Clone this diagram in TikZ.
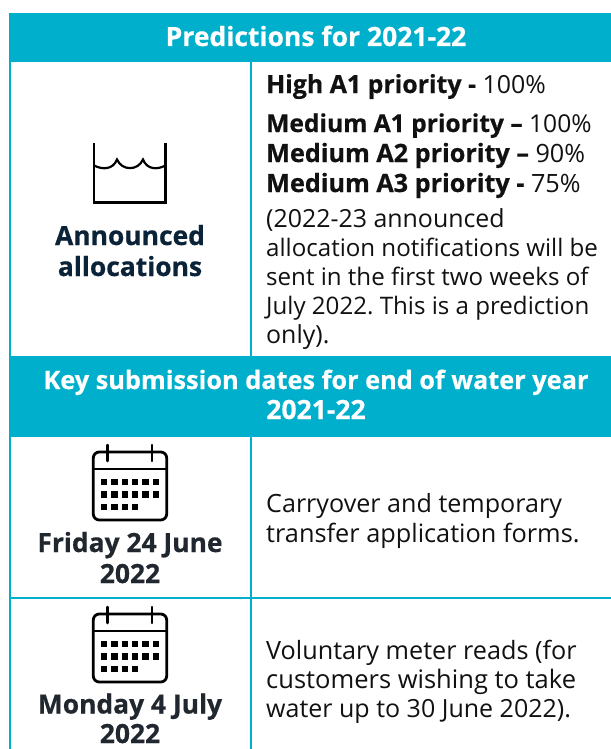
\documentclass[tikz,border=0pt]{standalone}
\usepackage{fontspec}
\setmainfont[BoldFeatures={FakeBold=0.5}]{Open Sans}
\frenchspacing
\definecolor{tealband}{HTML}{00AFCB}
\definecolor{navytext}{HTML}{0B2338}
\definecolor{darktext}{HTML}{20272E}
\definecolor{bodytext}{HTML}{111111}
\newcommand{\sz}[1]{\fontsize{#1}{#1}\selectfont}
\tikzset{
  band/.style={fill=tealband,draw=none},
  rule/.style={draw=tealband,line width=2bp},
  headtext/.style={text=white,font=\sz{26.6}\bfseries,inner sep=0pt,anchor=base},
  labeltext/.style={text=navytext,font=\sz{26.5}\bfseries,inner sep=0pt,anchor=base},
  datetext/.style={text=darktext,font=\sz{26.5}\bfseries,inner sep=0pt,anchor=base},
  bodyline/.style={text=bodytext,font=\sz{25},inner sep=0pt,anchor=base west},
  icon/.style={draw=black,line width=2.8bp},
}
\newcommand{\calicon}[1]{%
  \begin{scope}[yshift=-#1bp]
    \draw[icon,rounded corners=6bp] (93.3,452) rectangle (166.7,520);
    \draw[icon] (93.3,469) -- (166.7,469);
    \draw[icon,line cap=round,line width=2.5bp] (107.5,445) -- (107.5,461);
    \draw[icon,line cap=round,line width=2.5bp] (152,445) -- (152,461);
    \foreach \xc in {104,114.5,125,135,145.5,156}{
      \fill[black] (\xc-3.4,482-3.4) rectangle (\xc+3.4,482+3.4);
      \fill[black] (\xc-3.4,494.5-3.4) rectangle (\xc+3.4,494.5+3.4);
    }
    \foreach \xc in {104,114.5,125,135}{
      \fill[black] (\xc-3.4,507-3.4) rectangle (\xc+3.4,507+3.4);
    }
  \end{scope}}
\begin{document}
\begin{tikzpicture}[x=1bp,y=-1bp]
\useasboundingbox (0,0) rectangle (611,749);
\fill[white] (0,0) rectangle (611,749);
% table rules
\draw[rule] (10,13) -- (10,749);
\draw[rule] (250.5,62) -- (250.5,749);
\draw[rule] (10,598) -- (611,598);
% bands
\fill[band] (9,13) rectangle (611,62);
\fill[band] (9,356) rectangle (611,437);
% header texts
\node[headtext] (h1) at (316,46) {Predictions for 2021-22};
\node[headtext,font=\sz{25.4}\bfseries] (h2a) at (316,389) {Key submission dates for end of water year};
\node[headtext] (h2b) at (316,419) {2021-22};
% water icon
\draw[icon] (94,143) -- (94,202.5) -- (165.5,202.5) -- (165.5,143);
\draw[icon,line width=2.2bp] (94,165.5) .. controls (103,170) and (113,169.5) .. (117,159.5)
  .. controls (122,171) and (138,171) .. (143,159.5)
  .. controls (147,169.5) and (157,170) .. (165.5,165.5);
% left labels
\node[labeltext] (l1) at (130,245) {Announced};
\node[labeltext] (l2) at (130,276) {allocations};
% right text
\node[bodyline] (a1) at (266,93) {\textbf{High A1 priority -} 100\%};
\node[bodyline,font=\sz{24.7}] (a2) at (266,132) {\textbf{Medium A1 priority –} 100\%};
\node[bodyline,font=\sz{25.3}] (a3) at (266,162) {\textbf{Medium A2 priority –} 90\%};
\node[bodyline,font=\sz{25.3}] (a4) at (266,192) {\textbf{Medium A3 priority -} 75\%};
\node[bodyline] (b1) at (266,227) {(2022-23 announced};
\node[bodyline,font=\sz{24.2}] (b2) at (266,256) {allocation notifications will be};
\node[bodyline,font=\sz{24.2}] (b3) at (266,285) {sent in the first two weeks of};
\node[bodyline,font=\sz{24.2}] (b4) at (266,314) {July 2022. This is a prediction};
\node[bodyline] (b5) at (266,343) {only).};
% calendars
\calicon{0}
\calicon{162}
\node[datetext] (d1a) at (130,552) {Friday 24 June};
\node[datetext] (d1b) at (130,583) {2022};
\node[datetext] (d2a) at (130,713.5) {Monday 4 July};
\node[datetext] (d2b) at (130,743) {2022};
\node[bodyline,font=\sz{25.2}] (c1) at (266,512) {Carryover and temporary};
\node[bodyline,font=\sz{25.4}] (c2) at (266,542) {transfer application forms.};
\node[bodyline,font=\sz{25.3}] (e1) at (266,659) {Voluntary meter reads (for};
\node[bodyline,font=\sz{25.6}] (e2) at (266,688) {customers wishing to take};
\node[bodyline,font=\sz{25.1}] (e3) at (266,717) {water up to 30 June 2022).};
\end{tikzpicture}
\end{document}
